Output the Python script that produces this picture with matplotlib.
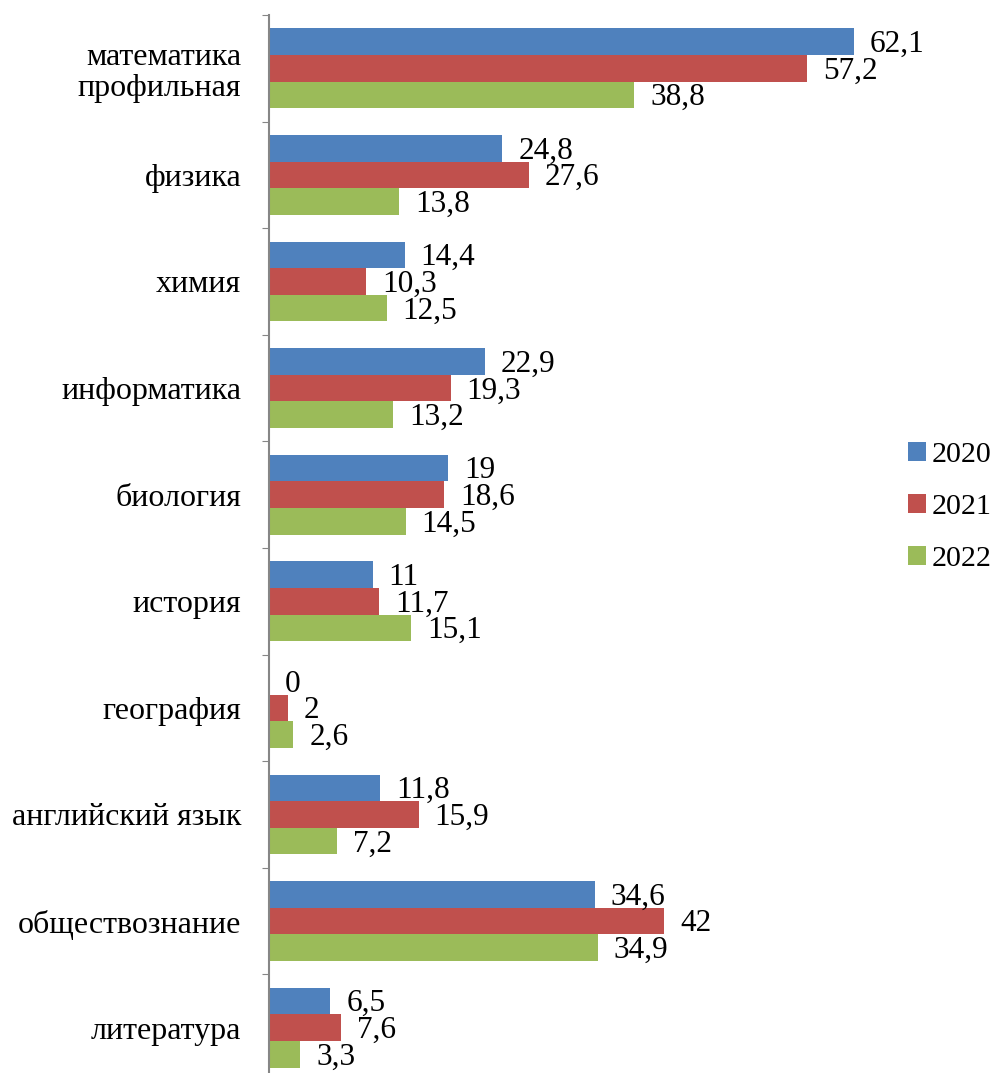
import numpy as np
import matplotlib.pyplot as plt

categories = ["математика\nпрофильная", "физика", "химия", "информатика", "биология",
              "история", "география", "английский язык", "обществознание", "литература"]
v2020 = [62.1, 24.8, 14.4, 22.9, 19, 11, 0, 11.8, 34.6, 6.5]
v2021 = [57.2, 27.6, 10.3, 19.3, 18.6, 11.7, 2, 15.9, 42, 7.6]
v2022 = [38.8, 13.8, 12.5, 13.2, 14.5, 15.1, 2.6, 7.2, 34.9, 3.3]
years = ["2020", "2021", "2022"]
colors = ["#4F81BD", "#C0504D", "#9BBB59"]

plt.rcParams['font.family'] = ['Liberation Serif', 'DejaVu Serif']


def fmt(v):
    if float(v).is_integer():
        return str(int(v))
    return f"{v:.1f}".replace(".", ",")


fig = plt.figure(figsize=(9.99, 10.73), dpi=100)
ax = fig.add_axes([269 / 999, 1 - 1081 / 1073, 659 / 999, 1066 / 1073])

y = np.arange(len(categories))
h = 0.25
for k, (vals, col, lab) in enumerate(zip([v2020, v2021, v2022], colors, years)):
    pos = y + (k - 1) * h
    ax.barh(pos, vals, height=h, color=col, label=lab)
    for p, v in zip(pos, vals):
        ax.annotate(fmt(v), (v, p), xytext=(11.5, -2), textcoords="offset points",
                    va="center", ha="left", fontsize=22.5)

ax.set_xlim(0, 70)
ax.set_ylim(len(categories) - 0.5, -0.5)
ax.set_yticks(np.arange(len(categories) + 1) - 0.5)
ax.set_yticklabels([])
ax.set_yticks(y, minor=True)
ax.set_yticklabels(categories, minor=True, fontsize=23, ha="right", linespacing=1.1)
ax.tick_params(axis="y", which="major", length=5, color="#868686", direction="out")
ax.tick_params(axis="y", which="minor", length=0, pad=20)
ax.set_xticks([])
for s in ["top", "right", "bottom"]:
    ax.spines[s].set_visible(False)
ax.spines["left"].set_color("#868686")
ax.spines["left"].set_linewidth(1.5)

leg = fig.legend(loc="center left", bbox_to_anchor=(908 / 999, 1 - 507 / 1073), frameon=False,
                 fontsize=21.6, handlelength=0.6, handleheight=0.6, handletextpad=0.2,
                 labelspacing=0.85, borderpad=0, borderaxespad=0)

fig.savefig("out.png", dpi=100)
